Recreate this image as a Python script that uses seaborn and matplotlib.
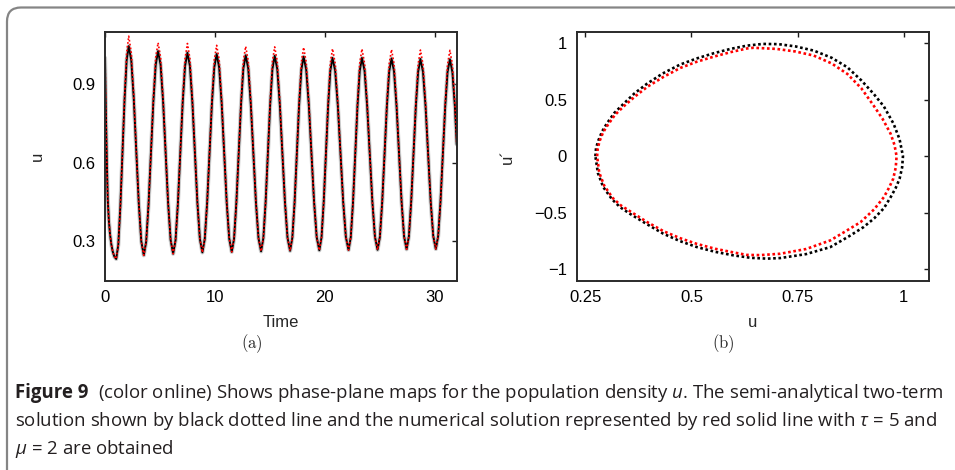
import numpy as np
import pandas as pd
import matplotlib
matplotlib.use("Agg")
import matplotlib.pyplot as plt
import seaborn as sns
from matplotlib.patches import FancyBboxPatch
from matplotlib.transforms import IdentityTransform

sns.set_style("white")
plt.rcParams["font.family"] = ["Liberation Sans", "DejaVu Sans"]
plt.rcParams["mathtext.fontset"] = "custom"
plt.rcParams["mathtext.rm"] = "Open Sans"
plt.rcParams["mathtext.it"] = "Open Sans:italic"

#------------------------------ data ----------------------
# (a) time series u(t): black = semi-analytical, red = numerical
time = [
    0.0, 0.05, 0.1, 0.175, 0.25, 0.35, 0.45, 0.57, 0.7, 0.85, 1.02,
    1.21, 1.40, 1.59, 1.78, 1.97, 2.16,
    2.388, 2.617, 2.845, 3.073, 3.302, 3.53,
    3.747, 3.963, 4.18, 4.397, 4.613, 4.83,
    5.058, 5.287, 5.515, 5.743, 5.972, 6.20,
    6.417, 6.633, 6.85, 7.067, 7.283, 7.50,
    7.727, 7.953, 8.18, 8.407, 8.633, 8.86,
    9.077, 9.293, 9.51, 9.727, 9.943, 10.16,
    10.388, 10.617, 10.845, 11.073, 11.302, 11.53,
    11.742, 11.953, 12.165, 12.377, 12.588, 12.80,
    13.033, 13.267, 13.50, 13.733, 13.967, 14.20,
    14.407, 14.613, 14.82, 15.027, 15.233, 15.44,
    15.673, 15.907, 16.14, 16.373, 16.607, 16.84,
    17.045, 17.25, 17.455, 17.66, 17.865, 18.07,
    18.308, 18.547, 18.785, 19.023, 19.262, 19.50,
    19.70, 19.90, 20.10, 20.30, 20.50, 20.70,
    20.943, 21.187, 21.43, 21.673, 21.917, 22.16,
    22.363, 22.567, 22.77, 22.973, 23.177, 23.38,
    23.617, 23.853, 24.09, 24.327, 24.563, 24.80,
    25.012, 25.223, 25.435, 25.647, 25.858, 26.07,
    26.298, 26.527, 26.755, 26.983, 27.212, 27.44,
    27.65, 27.86, 28.07, 28.28, 28.49, 28.70,
    28.933, 29.167, 29.40, 29.633, 29.867, 30.10,
    30.313, 30.527, 30.74, 30.953, 31.167, 31.38,
    31.608, 31.837, 32.0,
]
u_black = [
    1.0, 0.87, 0.75, 0.59, 0.46, 0.38, 0.33, 0.29, 0.262, 0.242, 0.233,
    0.287, 0.436, 0.639, 0.842, 0.991, 1.045,
    0.992, 0.845, 0.646, 0.446, 0.300, 0.247,
    0.299, 0.442, 0.637, 0.831, 0.974, 1.026,
    0.974, 0.833, 0.639, 0.446, 0.305, 0.253,
    0.304, 0.445, 0.637, 0.828, 0.969, 1.020,
    0.969, 0.829, 0.639, 0.448, 0.309, 0.258,
    0.309, 0.447, 0.637, 0.826, 0.964, 1.015,
    0.964, 0.826, 0.637, 0.449, 0.311, 0.260,
    0.310, 0.448, 0.635, 0.823, 0.960, 1.010,
    0.960, 0.823, 0.636, 0.449, 0.312, 0.262,
    0.312, 0.449, 0.635, 0.822, 0.958, 1.008,
    0.958, 0.822, 0.636, 0.450, 0.314, 0.264,
    0.314, 0.449, 0.634, 0.820, 0.955, 1.005,
    0.955, 0.820, 0.635, 0.451, 0.316, 0.266,
    0.315, 0.450, 0.633, 0.817, 0.951, 1.000,
    0.951, 0.817, 0.633, 0.450, 0.316, 0.267,
    0.316, 0.450, 0.634, 0.817, 0.951, 1.000,
    0.951, 0.817, 0.634, 0.451, 0.317, 0.268,
    0.317, 0.451, 0.633, 0.816, 0.949, 0.998,
    0.949, 0.816, 0.634, 0.452, 0.319, 0.270,
    0.319, 0.452, 0.633, 0.815, 0.947, 0.996,
    0.947, 0.815, 0.633, 0.452, 0.320, 0.271,
    0.320, 0.452, 0.633, 0.814, 0.946, 0.995,
    0.946, 0.814, 0.670,
]
u_red = [
    1.0, 0.87, 0.75, 0.59, 0.46, 0.38, 0.33, 0.29, 0.262, 0.242, 0.233,
    0.287, 0.436, 0.639, 0.854, 1.019, 1.083,
    1.020, 0.857, 0.646, 0.446, 0.300, 0.247,
    0.299, 0.442, 0.637, 0.843, 1.002, 1.058,
    1.002, 0.845, 0.639, 0.446, 0.305, 0.253,
    0.304, 0.445, 0.637, 0.840, 0.997, 1.055,
    0.997, 0.841, 0.639, 0.448, 0.309, 0.258,
    0.309, 0.447, 0.637, 0.838, 0.992, 1.048,
    0.992, 0.838, 0.637, 0.449, 0.311, 0.260,
    0.310, 0.448, 0.635, 0.835, 0.988, 1.044,
    0.988, 0.835, 0.636, 0.449, 0.312, 0.262,
    0.312, 0.449, 0.635, 0.834, 0.986, 1.042,
    0.986, 0.834, 0.636, 0.450, 0.314, 0.264,
    0.314, 0.449, 0.634, 0.832, 0.983, 1.040,
    0.983, 0.832, 0.635, 0.451, 0.316, 0.266,
    0.315, 0.450, 0.633, 0.829, 0.979, 1.035,
    0.979, 0.829, 0.633, 0.450, 0.316, 0.267,
    0.316, 0.450, 0.634, 0.829, 0.979, 1.034,
    0.979, 0.829, 0.634, 0.451, 0.317, 0.268,
    0.317, 0.451, 0.633, 0.828, 0.977, 1.032,
    0.977, 0.828, 0.634, 0.452, 0.319, 0.270,
    0.319, 0.452, 0.633, 0.827, 0.975, 1.030,
    0.975, 0.827, 0.633, 0.452, 0.320, 0.271,
    0.320, 0.452, 0.633, 0.826, 0.974, 1.029,
    0.974, 0.826, 0.672,
]

# (b) phase plane (u, u')
u_phase_black = [0.274, 0.2755, 0.281, 0.290, 0.3005, 0.318, 0.340, 0.366, 0.395, 0.432, 0.473,
                 0.512, 0.552, 0.592, 0.631, 0.668, 0.705, 0.745, 0.788, 0.830, 0.867,
                 0.900, 0.929, 0.953, 0.976, 0.990, 0.998, 0.996, 0.990, 0.981, 0.969,
                 0.953, 0.930, 0.905, 0.870, 0.827, 0.770, 0.709, 0.678, 0.640, 0.599,
                 0.556, 0.513, 0.473, 0.434, 0.395, 0.355, 0.332, 0.313, 0.2925, 0.280, 0.274]
du_phase_black = [0.0, 0.07, 0.139, 0.22, 0.286, 0.38, 0.462, 0.555, 0.639, 0.73, 0.809,
                  0.863, 0.909, 0.948, 0.977, 0.992, 0.99, 0.97, 0.933, 0.87, 0.786,
                  0.67, 0.551, 0.44, 0.286, 0.15, 0.0, -0.10, -0.20, -0.28, -0.362,
                  -0.46, -0.55, -0.627, -0.71, -0.803, -0.865, -0.9, -0.905, -0.898, -0.876,
                  -0.845, -0.803, -0.75, -0.685, -0.60, -0.508, -0.45, -0.38, -0.273, -0.15, 0.0]
u_phase_red = [0.278, 0.2795, 0.284, 0.292, 0.303, 0.320, 0.342, 0.368, 0.397, 0.434, 0.474,
               0.513, 0.553, 0.593, 0.631, 0.646, 0.70, 0.745, 0.788, 0.830, 0.867,
               0.900, 0.929, 0.950, 0.969, 0.978, 0.983, 0.981, 0.975, 0.965, 0.953,
               0.930, 0.898, 0.860, 0.827, 0.770, 0.709, 0.662, 0.630, 0.599, 0.556,
               0.513, 0.474, 0.434, 0.395, 0.357, 0.334, 0.315, 0.295, 0.283, 0.278]
du_phase_red = [0.0, 0.068, 0.135, 0.21, 0.275, 0.365, 0.445, 0.53, 0.615, 0.70, 0.78,
                0.835, 0.88, 0.92, 0.952, 0.958, 0.948, 0.925, 0.889, 0.82, 0.727,
                0.60, 0.447, 0.33, 0.198, 0.10, 0.0, -0.10, -0.20, -0.28, -0.362,
                -0.47, -0.583, -0.67, -0.744, -0.82, -0.862, -0.874, -0.872, -0.85, -0.818,
                -0.775, -0.725, -0.662, -0.58, -0.49, -0.435, -0.37, -0.262, -0.145, 0.0]

time_ticks = [0, 10, 20, 30]
u_ticks = [0.3, 0.6, 0.9]
phase_x_ticks = [0.25, 0.5, 0.75, 1.0]
phase_x_labels = ["0.25", "0.5", "0.75", "1"]
phase_y_ticks = [-1, -0.5, 0, 0.5, 1]
phase_y_labels = ["\u22121", "\u22120.5", "0", "0.5", "1"]

caption_bold = "Figure 9"
caption_lines = [
    "(color online) Shows phase-plane maps for the population density $u$. The semi-analytical two-term",
    "solution shown by black dotted line and the numerical solution represented by red solid line with $\\tau$ = 5 and",
    "$\\mu$ = 2 are obtained",
]

assert len(time) == len(u_black) == len(u_red)
assert len(u_phase_black) == len(du_phase_black)
assert len(u_phase_red) == len(du_phase_red)

ts = pd.DataFrame({"t": time, "black": u_black, "red": u_red})

#------------------------------ figure ----------------------
W, H, DPI = 955, 470, 100
fig = plt.figure(figsize=(W / DPI, H / DPI), dpi=DPI)


def px_axes(left, top, right, bottom):
    return fig.add_axes([left / W, 1 - bottom / H, (right - left) / W, (bottom - top) / H])


ax1 = px_axes(105, 31.7, 456.7, 280.7)
ax2 = px_axes(576.7, 31.7, 929.3, 280.7)

# (a) time series
sns.lineplot(data=ts, x="t", y="black", ax=ax1, color="#b5b5b5", lw=3.0, alpha=0.7,
             estimator=None, sort=False)
sns.lineplot(data=ts, x="t", y="black", ax=ax1, color="black", lw=1.4,
             estimator=None, sort=False)
sns.lineplot(data=ts, x="t", y="red", ax=ax1, color="red", lw=1.2,
             linestyle=(0, (1, 1.3)), estimator=None, sort=False)
ax1.set_xlim(0, 32)
ax1.set_ylim(0.15, 1.1)
ax1.set_xticks(time_ticks)
ax1.set_yticks(u_ticks)
ax1.set_yticklabels([str(v) for v in u_ticks])

# (b) phase plane
sns.lineplot(x=u_phase_black, y=du_phase_black, ax=ax2, color="black", lw=1.9,
             linestyle=(0, (1, 1.0)), estimator=None, sort=False)
sns.lineplot(x=u_phase_red, y=du_phase_red, ax=ax2, color="red", lw=1.9,
             linestyle=(0, (1, 1.0)), estimator=None, sort=False)
ax2.set_xlim(0.23, 1.06)
ax2.set_ylim(-1.1, 1.1)
ax2.set_xticks(phase_x_ticks)
ax2.set_xticklabels(phase_x_labels)
ax2.set_yticks(phase_y_ticks)
ax2.set_yticklabels(phase_y_labels)

for ax in (ax1, ax2):
    for sp in ax.spines.values():
        sp.set_color("#2a2a2a")
        sp.set_linewidth(1.4)
    ax.tick_params(direction="in", length=3.5, width=1, top=True, right=True,
                   labelsize=12, pad=7, colors="#1a1a1a")
    ax.tick_params(labelcolor="black")

ax1.set_xlabel("Time", fontsize=12, va="center")
ax1.xaxis.set_label_coords(0.5, -42 / 249)
ax1.set_ylabel("u", fontsize=12, va="center")
ax1.yaxis.set_label_coords(-68 / 351.7, 0.5)
ax2.set_xlabel("u", fontsize=12, va="center")
ax2.xaxis.set_label_coords(0.5, -42 / 249)
ax2.set_ylabel("u\u00b4", fontsize=12, va="center")
ax2.yaxis.set_label_coords(-69 / 352.6, 0.5)

# sub-figure tags
fig.text(252 / W, 1 - 344 / H, r"$\mathrm{(a)}$", ha="center", va="center",
         fontsize=12, math_fontfamily="cm")
fig.text(723 / W, 1 - 344 / H, r"$\mathrm{(b)}$", ha="center", va="center",
         fontsize=12, math_fontfamily="cm")

# outer rounded frame (runs off the right and bottom edges)
frame = FancyBboxPatch((7, -60), 1100, H - 7.5 + 60,
                       boxstyle="round,pad=0,rounding_size=14",
                       ec="#858585", fc="none", lw=1.6, transform=IdentityTransform())
fig.add_artist(frame)

# caption, sized so the first two lines fit the box width
cap_family = ["Open Sans", "DejaVu Sans"]
renderer = fig.canvas.get_renderer()


def text_width(s, **kw):
    t = fig.text(0, 0.1, s, fontsize=12, family=cap_family, **kw)
    w = t.get_window_extent(renderer).width
    t.remove()
    return w


w_line2 = text_width(caption_lines[1])
w_line1 = text_width(caption_bold, fontweight="bold") + text_width(caption_lines[0])
cap_size = min(14.0, 12 * 927 / w_line2, 12 * (928 - 10) / w_line1)

baselines = [398, 426, 454]
bold = fig.text(15 / W, 1 - baselines[0] / H, caption_bold, fontsize=cap_size,
                fontweight="bold", va="baseline", color="#231f20", family=cap_family)
bw = bold.get_window_extent(renderer).width
fig.text((15 + bw + 10) / W, 1 - baselines[0] / H, caption_lines[0], fontsize=cap_size,
         va="baseline", color="#231f20", family=cap_family)
for line, yb in zip(caption_lines[1:], baselines[1:]):
    fig.text(15 / W, 1 - yb / H, line, fontsize=cap_size, va="baseline", color="#231f20",
             family=cap_family)

fig.savefig("out.png", dpi=DPI)
